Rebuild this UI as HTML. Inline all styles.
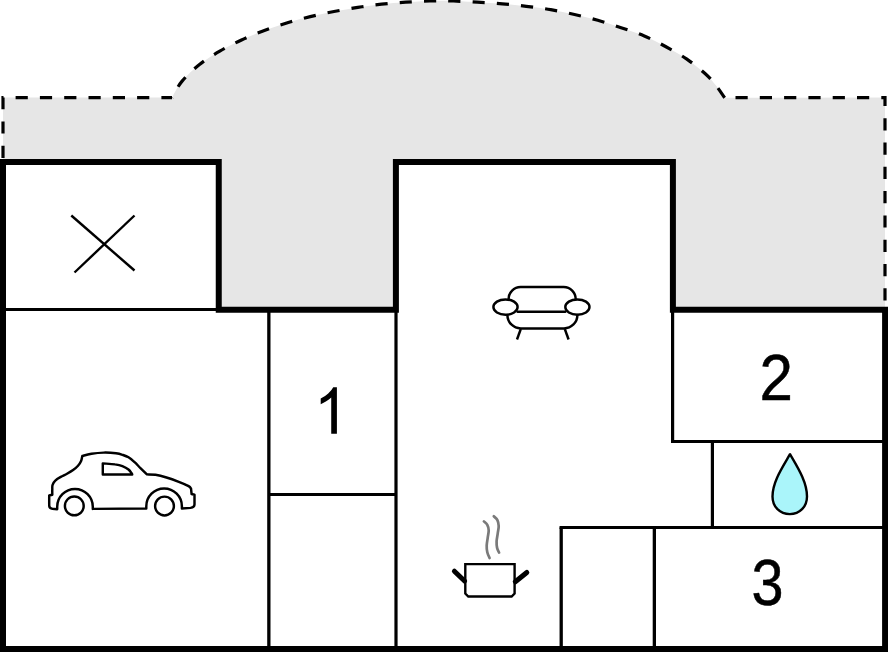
<!DOCTYPE html>
<html>
<head>
<meta charset="utf-8">
<title>Floor plan</title>
<style>
  html, body { margin: 0; padding: 0; background: #ffffff; }
  body { width: 888px; height: 652px; overflow: hidden; font-family: "Liberation Sans", sans-serif; }
  svg { display: block; }
  .num { font-family: "Liberation Sans", sans-serif; font-size: 66px; fill: #000; stroke: #000; stroke-width: 0.5px; text-anchor: middle; }
</style>
</head>
<body>
<svg width="888" height="652" viewBox="0 0 888 652">
  <rect x="0" y="0" width="888" height="652" fill="#ffffff"/>

  <!-- terrace (gray, dashed outline) -->
  <path d="M3 310 L3 97.6 L172 97.6 C173.7 94.8 177.5 86.6 182.1 81.1 C186.7 75.6 193.2 69.5 199.5 64.5 C205.8 59.5 212.8 55.3 219.8 51.2 C226.8 47.1 234.2 43.4 241.5 40.0 C248.8 36.6 256.2 33.6 263.7 30.8 C271.2 28.0 278.9 25.4 286.7 23.0 C294.5 20.6 302.4 18.5 310.3 16.6 C318.2 14.7 326.1 13.0 334.0 11.5 C341.9 10.0 349.9 8.6 357.8 7.4 C365.7 6.2 373.6 5.1 381.6 4.2 C389.6 3.3 397.7 2.7 405.7 2.2 C413.7 1.7 423.7 1.2 429.7 1.0 C435.7 0.8 437.6 0.8 441.6 0.8 C445.6 0.8 447.5 0.8 453.5 1.0 C459.5 1.2 469.4 1.7 477.5 2.2 C485.6 2.7 494.2 3.1 502.3 3.8 C510.4 4.5 518.2 5.3 526.3 6.3 C534.4 7.3 542.7 8.3 550.7 9.7 C558.7 11.1 566.6 12.7 574.5 14.5 C582.4 16.3 590.0 18.1 597.8 20.3 C605.6 22.5 613.4 25.1 621.1 27.7 C628.9 30.3 636.9 32.9 644.3 36.0 C651.7 39.1 658.5 42.7 665.5 46.5 C672.5 50.3 679.9 54.4 686.5 58.9 C693.1 63.4 700.4 69.3 705.3 73.7 C710.2 78.1 712.8 81.5 716.0 85.5 C719.2 89.5 723.2 95.8 724.7 97.8 L885 97.6 L885 310 Z" fill="#e6e6e6" stroke="none"/>
  <path d="M3 157.9 L3 97.6 L172 97.6" fill="none" stroke="#000" stroke-width="3.2" stroke-dasharray="12.2 12.1"/>
  <path d="M172 97.6 C173.7 94.8 177.5 86.6 182.1 81.1 C186.7 75.6 193.2 69.5 199.5 64.5 C205.8 59.5 212.8 55.3 219.8 51.2 C226.8 47.1 234.2 43.4 241.5 40.0 C248.8 36.6 256.2 33.6 263.7 30.8 C271.2 28.0 278.9 25.4 286.7 23.0 C294.5 20.6 302.4 18.5 310.3 16.6 C318.2 14.7 326.1 13.0 334.0 11.5 C341.9 10.0 349.9 8.6 357.8 7.4 C365.7 6.2 373.6 5.1 381.6 4.2 C389.6 3.3 397.7 2.7 405.7 2.2 C413.7 1.7 423.7 1.2 429.7 1.0 C435.7 0.8 437.6 0.8 441.6 0.8 C445.6 0.8 447.5 0.8 453.5 1.0 C459.5 1.2 469.4 1.7 477.5 2.2 C485.6 2.7 494.2 3.1 502.3 3.8 C510.4 4.5 518.2 5.3 526.3 6.3 C534.4 7.3 542.7 8.3 550.7 9.7 C558.7 11.1 566.6 12.7 574.5 14.5 C582.4 16.3 590.0 18.1 597.8 20.3 C605.6 22.5 613.4 25.1 621.1 27.7 C628.9 30.3 636.9 32.9 644.3 36.0 C651.7 39.1 658.5 42.7 665.5 46.5 C672.5 50.3 679.9 54.4 686.5 58.9 C693.1 63.4 700.4 69.3 705.3 73.7 C710.2 78.1 712.8 81.5 716.0 85.5 C719.2 89.5 723.2 95.8 724.7 97.8" fill="none" stroke="#000" stroke-width="3.2" stroke-dasharray="12.2 12.1" stroke-dashoffset="11.8"/>
  <path d="M723.4 97.6 L885 97.6 L885 310" fill="none" stroke="#000" stroke-width="3.2" stroke-dasharray="12.2 12.1" stroke-dashoffset="12.2"/>

  <!-- house interior (white) -->
  <path d="M3 649 L3 161.9 L218.75 161.9 L218.75 309.8 L395.9 309.8 L395.9 161.9 L672.9 161.9 L672.9 309.8 L885.1 309.8 L885.1 649 Z" fill="#ffffff" stroke="none"/>

  <!-- thin interior walls -->
  <g fill="none" stroke="#000" stroke-linecap="butt">
    <path d="M3 309.5 L218.75 309.5" stroke-width="2.9"/>
    <path d="M268.85 309.8 L268.85 649" stroke-width="3.3"/>
    <path d="M396 309.8 L396 649" stroke-width="3.2"/>
    <path d="M268.85 494.4 L396 494.4" stroke-width="3"/>
    <path d="M672.6 309.8 L672.6 442.9" stroke-width="3.2"/>
    <path d="M671 441.4 L885 441.4" stroke-width="3"/>
    <path d="M712.4 441.4 L712.4 527.45" stroke-width="3.2"/>
    <path d="M559.55 527.45 L885 527.45" stroke-width="3"/>
    <path d="M561.2 527.45 L561.2 649" stroke-width="3.3"/>
    <path d="M654.35 527.45 L654.35 649" stroke-width="3.3"/>
  </g>

  <!-- thick outer walls -->
  <path d="M3 649 L3 161.9 L218.75 161.9 L218.75 309.8 L395.9 309.8 L395.9 161.9 L672.9 161.9 L672.9 309.8 L885.1 309.8 L885.1 649 Z" fill="none" stroke="#000" stroke-width="6" stroke-linejoin="miter"/>

  <!-- X symbol -->
  <g fill="none" stroke="#000" stroke-width="2.4">
    <path d="M71.3 215.5 L134.5 270.5"/>
    <path d="M134.5 215.5 L74.5 272.5"/>
  </g>

  <!-- sofa -->
  <g fill="none" stroke="#000" stroke-width="2.45" stroke-linecap="round" stroke-linejoin="round">
    <path d="M508.6 299 A 12 12 0 0 1 520.6 287 L563.7 287 A 12 12 0 0 1 575.7 299"/>
    <ellipse cx="505.5" cy="307.1" rx="12.1" ry="7.7"/>
    <ellipse cx="577.4" cy="307.1" rx="12.1" ry="7.7"/>
    <path d="M517.6 311.8 L565.3 311.8"/>
    <path d="M507.4 315 A 13.4 13.4 0 0 0 520.8 328.4 L564 328.4 A 13.4 13.4 0 0 0 577.4 315"/>
    <path d="M520.8 329 L517 339.5" stroke-linecap="butt"/>
    <path d="M564.8 329 L568.6 339.5" stroke-linecap="butt"/>
  </g>

  <!-- car -->
  <g fill="none" stroke="#000" stroke-width="2.45" stroke-linejoin="round">
    <path d="M82.3 456.0 C82.1 456.8 81.8 459.3 81.1 460.9 C80.4 462.5 79.3 464.3 78.0 465.8 C76.7 467.3 74.9 468.8 73.1 470.1 C71.3 471.4 69.0 472.7 67.0 473.8 C65.0 474.9 62.8 475.8 60.8 476.9 C58.8 478.0 56.7 479.3 55.3 480.6 C53.9 481.9 53.1 483.4 52.6 484.8 C52.1 486.2 52.3 487.5 52.3 489.1 C52.2 490.8 52.3 493.8 52.3 494.7 L49.2 495.5 L49.2 505.5 C49.2 507.5 50.5 508.5 52.3 508.8 L57.2 509.2 L57.2 506.7 A17.8 17.8 0 0 1 92.8 506.7 L92.8 508.9 L146.3 508.5 L146.3 506.3 A17.8 17.8 0 0 1 181.9 506.3 L181.9 508.5 L190.5 507.9 C192.5 507.6 194.5 506.2 194.5 504.5 L194.5 494.7 L191.6 494 L191 488.5 C190.6 488.1 190.6 487.2 188.6 486.1 C186.6 485.0 182.5 483.2 178.8 481.8 C175.1 480.4 170.4 478.7 166.5 477.5 C162.6 476.3 158.8 475.3 155.5 474.8 C152.2 474.3 148.3 474.5 146.9 474.4 C145.9 473.4 142.8 470.3 140.7 468.3 C138.6 466.3 136.6 464.0 134.6 462.2 C132.6 460.4 130.5 458.5 128.5 457.3 C126.5 456.1 124.5 455.5 122.4 454.8 C120.3 454.1 119.1 453.7 116.0 453.3 C112.9 452.9 107.9 452.5 103.8 452.6 C99.7 452.7 95.1 453.2 91.5 453.8 C87.9 454.4 83.8 455.6 82.3 456.0 Z"/>
    <circle cx="74.3" cy="505.9" r="9.4"/>
    <circle cx="164.5" cy="506" r="9.4"/>
    <path d="M102.8 463.4 L102.8 474.4 L132.2 474.4 C132.1 474.2 132.2 474.0 131.6 473.2 C131.0 472.4 130.0 470.7 128.5 469.5 C127.0 468.3 124.7 467.0 122.4 466.1 C120.2 465.2 118.3 464.8 115.0 464.4 C111.7 463.9 104.8 463.6 102.8 463.4 Z"/>
  </g>

  <!-- cooking pot -->
  <g fill="none" stroke="#000">
    <path d="M465.3 564.1 L514.6 564.1 L514.6 593.5 L511.6 596.5 L468.3 596.5 L465.3 593.5 Z" stroke-width="2.4" stroke-linejoin="miter"/>
    <path d="M454.4 571.2 L464.6 581" stroke-width="5" stroke-linecap="round"/>
    <path d="M526.8 572.5 L515.3 581.8" stroke-width="5" stroke-linecap="round"/>
    <path d="M483.9 521.4 C484.5 522.0 486.5 523.3 487.3 524.8 C488.1 526.3 488.6 528.0 488.7 530.2 C488.8 532.4 488.0 535.3 487.7 537.8 C487.4 540.3 486.8 543.0 486.7 545.4 C486.6 547.8 486.8 550.1 487.3 552.2 C487.8 554.3 489.2 557.1 489.6 558.1" stroke="#7a7a7a" stroke-width="2.7" stroke-linecap="round"/>
    <path d="M493.8 516.3 C494.4 516.9 496.6 518.5 497.4 520.1 C498.2 521.7 498.6 523.8 498.7 526.0 C498.8 528.2 498.0 531.1 497.7 533.6 C497.4 536.1 496.7 538.8 496.6 541.2 C496.5 543.6 496.7 546.0 497.1 547.9 C497.5 549.8 498.8 551.8 499.1 552.6" stroke="#7a7a7a" stroke-width="2.7" stroke-linecap="round"/>
  </g>

  <!-- water drop -->
  <path d="M790 454.2 C783 466.5 772.5 481.5 772.5 496.4 C772.5 506.9 780 514.1 789.8 514.1 C799.6 514.1 807 506.9 807 496.4 C807 481.5 797 466.5 790 454.2 Z" fill="#aaf5fa" stroke="#000" stroke-width="2.4" stroke-linejoin="round"/>

  <!-- room numbers -->
  <path d="M336.9 433.65 L331.23 433.65 L331.23 397.53 Q329.18 399.48 325.86 401.44 Q322.9 403.3 320.7 404.2 L320.7 398.6 Q324.9 396.5 328.21 393.47 Q331.76 390.29 333.24 387.3 L336.9 387.3 Z" fill="#000"/>
  <text class="num" transform="translate(776.3 399.6) scale(0.91 0.99)" x="0" y="0">2</text>
  <text class="num" transform="translate(767.4 605.2) scale(0.872 0.985)" x="0" y="0">3</text>
</svg>
</body>
</html>
